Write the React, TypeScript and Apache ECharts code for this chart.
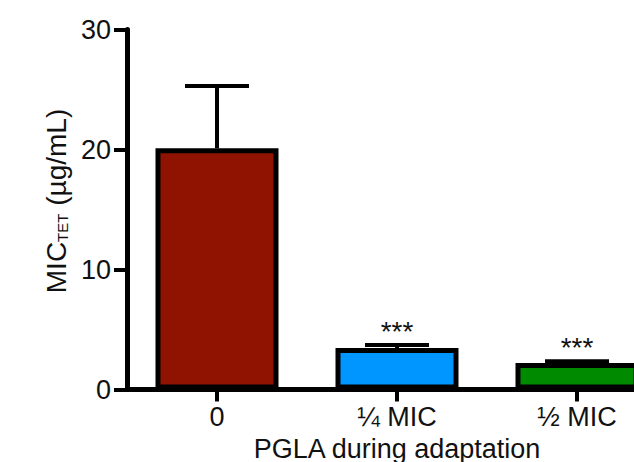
import React, { useEffect, useRef } from "react";
import * as echarts from "echarts";

// PGLA concentration during adaptation
const categories = ["0", "¼ MIC", "½ MIC"];
// mean MIC of tetracycline (µg/mL)
const meanValues = [20.1, 3.45, 2.2];
// upper error (SD)
const errorValues = [5.2, 0.25, 0.15];
// significance markers vs. control
const significance = ["", "***", "***"];
const barColors = ["#8f1300", "#0096ff", "#008a00"];

const FONT = "'Liberation Sans', Arial, Helvetica, sans-serif";
const INK = "#111111";

export default function App() {
  const ref = useRef<HTMLDivElement>(null);

  useEffect(() => {
    if (!ref.current) return;
    const chart = echarts.init(ref.current, undefined, { renderer: "svg" });

    const errorData = categories.map((_, i) => [i, meanValues[i], meanValues[i] + errorValues[i]]);

    chart.setOption({
      animation: false,
      backgroundColor: "#ffffff",
      grid: {
        left: 127,
        top: 29.5,
        width: 540,
        height: 360,
        containLabel: false,
        outerBoundsMode: "none",
      },
      xAxis: {
        type: "category",
        data: categories,
        name: "PGLA during adaptation",
        nameLocation: "middle",
        nameGap: 42,
        nameTextStyle: { fontSize: 27, lineHeight: 27, fontFamily: FONT, color: INK },
        axisLine: { show: true, lineStyle: { color: "#000", width: 5 } },
        axisTick: { show: true, alignWithLabel: true, length: 12, lineStyle: { color: "#000", width: 4 } },
        axisLabel: { fontSize: 27, fontFamily: FONT, color: INK, margin: 14 },
        splitLine: { show: false },
      },
      yAxis: {
        type: "value",
        min: 0,
        max: 30,
        interval: 10,
        axisLine: { show: true, lineStyle: { color: "#000", width: 5 } },
        axisTick: { show: true, length: 13, lineStyle: { color: "#000", width: 4 } },
        axisLabel: { fontSize: 27, fontFamily: FONT, color: INK, margin: 16 },
        splitLine: { show: false },
      },
      graphic: [
        {
          type: "text",
          x: 55,
          y: 201,
          rotation: Math.PI / 2,
          style: {
            text: "{m|MIC}{s|TET}{m| (µg/mL)}",
            align: "center",
            verticalAlign: "middle",
            fill: INK,
            rich: {
              m: { fontSize: 28, fontFamily: FONT, fill: INK, lineHeight: 30, verticalAlign: "bottom" },
              s: { fontSize: 15, fontFamily: FONT, fill: INK, verticalAlign: "bottom" },
            },
          },
        },
      ],
      series: [
        {
          type: "bar",
          barWidth: 123,
          data: meanValues.map((v, i) => ({
            value: v,
            itemStyle: { color: barColors[i], borderColor: "#000", borderWidth: 5 },
          })),
          z: 2,
        },
        {
          type: "custom",
          z: 3,
          data: errorData,
          renderItem: (params: any, api: any) => {
            const idx = api.value(0);
            const base = api.coord([idx, api.value(1)]);
            const top = api.coord([idx, api.value(2)]);
            const capHalf = 32;
            return {
              type: "group",
              children: [
                {
                  type: "line",
                  shape: { x1: base[0], y1: base[1], x2: top[0], y2: top[1] },
                  style: { stroke: "#000", lineWidth: 4 },
                },
                {
                  type: "line",
                  shape: { x1: top[0] - capHalf, y1: top[1], x2: top[0] + capHalf, y2: top[1] },
                  style: { stroke: "#000", lineWidth: 4 },
                },
                {
                  type: "text",
                  x: top[0],
                  y: top[1] - 14,
                  style: {
                    text: significance[params.dataIndex],
                    fontSize: 28,
                    fontFamily: FONT,
                    fill: INK,
                    align: "center",
                    verticalAlign: "middle",
                  },
                },
              ],
            };
          },
        },
      ],
    });

    return () => chart.dispose();
  }, []);

  return (
    <div
      ref={ref}
      style={{ position: "fixed", left: 0, top: 0, width: 634, height: 462, background: "#fff" }}
    />
  );
}
